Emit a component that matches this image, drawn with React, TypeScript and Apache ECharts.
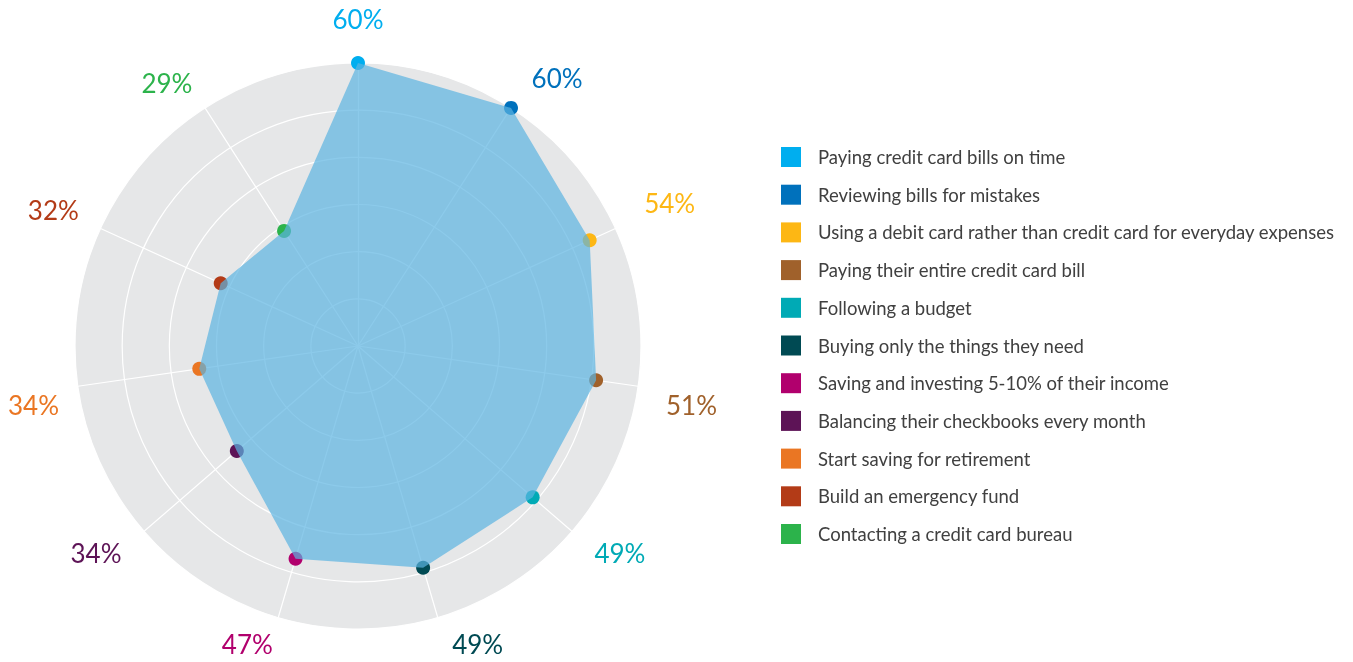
import React, { useEffect, useRef } from "react";
import * as echarts from "echarts";

const categories: string[] = [
  "Paying credit card bills on time",
  "Reviewing bills for mistakes",
  "Using a debit card rather than credit card for everyday expenses",
  "Paying their entire credit card bill",
  "Following a budget",
  "Buying only the things they need",
  "Saving and investing 5-10% of their income",
  "Balancing their checkbooks every month",
  "Start saving for retirement",
  "Build an emergency fund",
  "Contacting a credit card bureau",
];

const values: number[] = [60, 60, 54, 51, 49, 49, 47, 34, 34, 32, 29];

const colors: string[] = [
  "#00aeef",
  "#0071bc",
  "#fdb714",
  "#a0612b",
  "#00aab5",
  "#004a53",
  "#b1006d",
  "#5d1356",
  "#ea7623",
  "#b33b17",
  "#2cb34b",
];

// per-label layout tweaks for the outer value labels
const labelPadding: number[][] = [
  [0, 0, 17, 0],
  [0, 0, 5, 13],
  [0, 0, 7, 16],
  [0, 0, 0, 14],
  [0, 0, 0, 12],
  [0, 0, 0, 72],
  [0, 54, 0, 0],
  [0, 12, 0, 0],
  [0, 5, 0, 0],
  [0, 9, 0, 0],
  [0, 5, 0, 0],
];
const labelDropLine: boolean[] = [false, false, false, true, false, false, false, false, true, false, false];

const MAX = 60;

export default function App() {
  const ref = useRef<HTMLDivElement>(null);

  useEffect(() => {
    if (!ref.current) return;
    const chart = echarts.init(ref.current, undefined, { renderer: "svg" });
    const center = [358, 346];
    const radius = 283;
    // radar goes counter-clockwise: reorder so it matches clockwise layout
    const order = categories.map((_, k) => (categories.length - k) % categories.length);

    const scatterSeries = categories.map((name, i) => ({
      type: "scatter",
      name,
      coordinateSystem: "polar",
      polarIndex: 0,
      symbol: "circle",
      symbolSize: 14,
      z: 2,
      itemStyle: { color: colors[i], opacity: 1 },
      data: [[values[i], i]],
    }));

    chart.setOption({
      animation: false,
      textStyle: { fontFamily: "Lato" },
      legend: {
        orient: "vertical",
        left: 781,
        top: 147,
        padding: 0,
        icon: "rect",
        itemWidth: 20,
        itemHeight: 20,
        itemGap: 17.7,
        selectedMode: false,
        textStyle: {
          fontSize: 18.5,
          color: "#404040",
          fontFamily: "Lato",
          padding: [0, 0, 0, 12],
        },
        data: categories,
      },
      radar: {
        center,
        radius,
        shape: "circle",
        splitNumber: 6,
        startAngle: 90,
        axisName: { show: false },
        indicator: order.map((idx) => ({ name: categories[idx], max: MAX, min: 0 })),
        splitArea: { show: true, areaStyle: { color: ["#e6e7e8"] } },
        splitLine: { show: true, lineStyle: { color: "#ffffff", width: 1.2 } },
        axisLine: { show: true, lineStyle: { color: "#ffffff", width: 1.2 } },
        axisTick: { show: false },
        axisLabel: { show: false },
      },
      polar: { center, radius },
      angleAxis: {
        type: "category",
        data: categories.map((c, i) => ({
          value: c,
          textStyle: {
            color: colors[i],
            padding: labelPadding[i],
            lineHeight: labelDropLine[i] ? 34 : undefined,
          },
        })),
        boundaryGap: false,
        startAngle: 90,
        clockwise: true,
        axisLine: { show: false },
        axisTick: { show: false },
        splitLine: { show: false },
        axisLabel: {
          show: true,
          margin: 14,
          fontSize: 26,
          fontFamily: "Lato",
          formatter: (_v: string, i: number) => (labelDropLine[i] ? "\n" : "") + values[i] + "%",
        },
      },
      radiusAxis: {
        min: 0,
        max: MAX,
        show: false,
        axisLine: { show: false },
        axisTick: { show: false },
        axisLabel: { show: false },
        splitLine: { show: false },
      },
      series: [
        ...scatterSeries,
        {
          type: "radar",
          name: "area",
          z: 3,
          symbol: "none",
          lineStyle: { width: 0, opacity: 0 },
          areaStyle: { color: "rgb(91,180,225)", opacity: 0.7 },
          data: [{ value: order.map((idx) => values[idx]), name: "area" }],
        },
      ],
    });
    return () => chart.dispose();
  }, []);

  return (
    <div
      ref={ref}
      style={{ position: "fixed", left: 0, top: 0, width: 1353, height: 662 }}
    />
  );
}
